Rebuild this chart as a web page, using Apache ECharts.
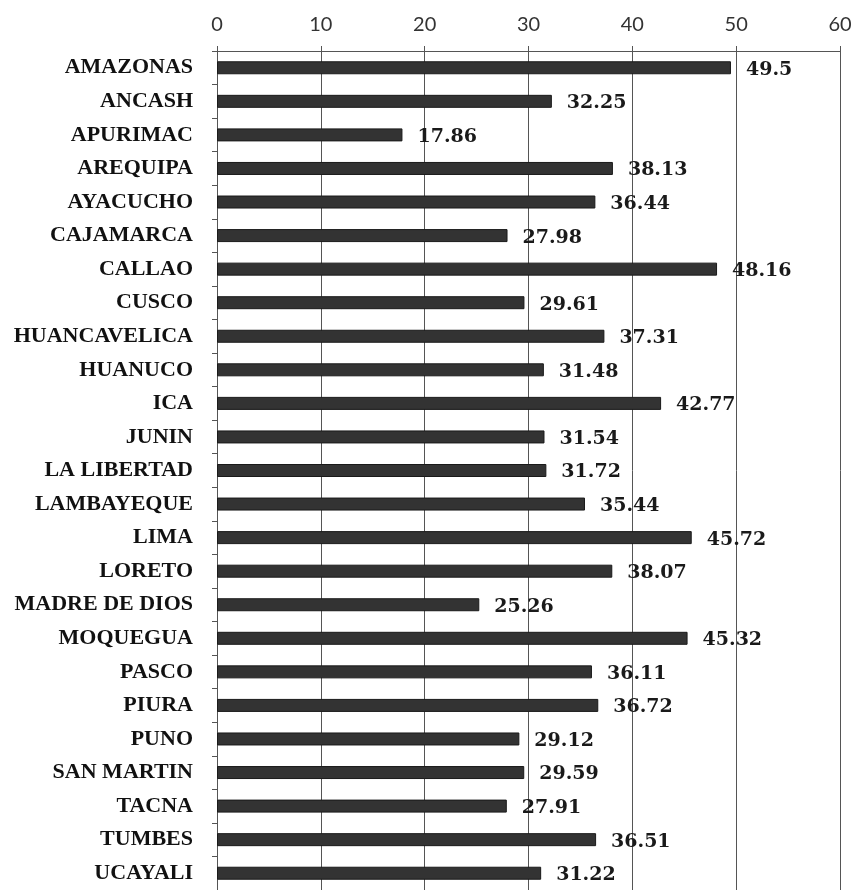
<!DOCTYPE html>
<html>
<head>
<meta charset="utf-8">
<script src="https://cdn.jsdelivr.net/npm/echarts@6/dist/echarts.min.js"></script>
<style>html,body{margin:0;padding:0;background:#fff;}#c{width:855px;height:890px;}</style>
</head>
<body>
<div id="c"></div>
<script>
const categories = ["AMAZONAS","ANCASH","APURIMAC","AREQUIPA","AYACUCHO","CAJAMARCA","CALLAO","CUSCO","HUANCAVELICA","HUANUCO","ICA","JUNIN","LA LIBERTAD","LAMBAYEQUE","LIMA","LORETO","MADRE DE DIOS","MOQUEGUA","PASCO","PIURA","PUNO","SAN MARTIN","TACNA","TUMBES","UCAYALI"];
const values = [49.5,32.25,17.86,38.13,36.44,27.98,48.16,29.61,37.31,31.48,42.77,31.54,31.72,35.44,45.72,38.07,25.26,45.32,36.11,36.72,29.12,29.59,27.91,36.51,31.22];
const xTicks = [0,10,20,30,40,50,60];

const chart = echarts.init(document.getElementById('c'));
chart.setOption({
  animation: false,
  grid: {left: 217, right: 15, top: 51, bottom: 0, containLabel: false},
  xAxis: {
    type: 'value', position: 'top', min: xTicks[0], max: xTicks[xTicks.length-1], interval: 10,
    axisLine: {show: true, lineStyle: {color: '#555', width: 1}},
    axisTick: {show: true, length: 5, lineStyle: {color: '#555'}},
    axisLabel: {fontFamily: 'Lato', fontSize: 20, color: '#333', margin: 16},
    splitLine: {show: true, lineStyle: {color: '#555', width: 1}}
  },
  yAxis: {
    type: 'category', inverse: true, data: categories,
    axisLine: {show: true, lineStyle: {color: '#555', width: 1}},
    axisTick: {show: true, length: 5, lineStyle: {color: '#555'}},
    axisLabel: {fontFamily: 'Liberation Serif', fontWeight: 'bold', fontSize: 22, color: '#111', margin: 24}
  },
  series: [{
    type: 'bar', data: values, barWidth: 13,
    itemStyle: {color: '#333', borderColor: '#1a1a1a', borderWidth: 1},
    label: {show: true, position: 'right', distance: 15, fontFamily: 'DejaVu Serif', fontWeight: 'bold', fontSize: 19, color: '#1a1a1a', offset: [0, 2]}
  }]
});
</script>
</body>
</html>
